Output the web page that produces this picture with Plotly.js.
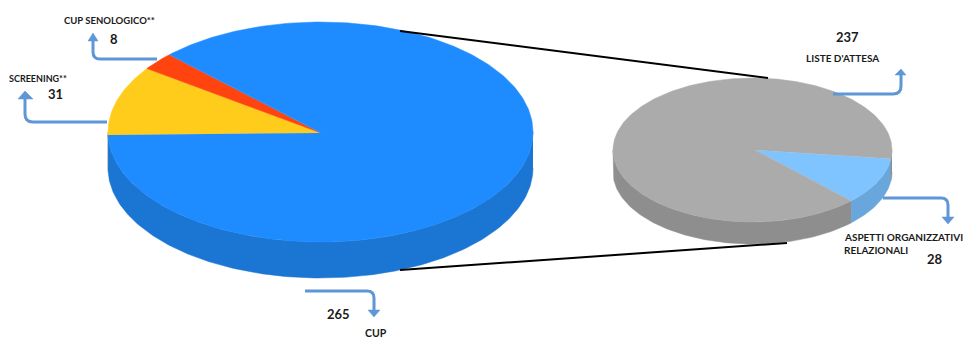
<!DOCTYPE html>
<html>
<head>
<meta charset="utf-8">
<script src="https://cdn.plot.ly/plotly-3.0.0.min.js"></script>
<style>html,body{margin:0;padding:0;background:#fff}#chart{width:963px;height:338px}</style>
</head>
<body>
<div id="chart"></div>
<script>
// Complaint counts: the main pie, and the breakdown of its CUP slice
const mainLabels = ['SCREENING**', 'CUP SENOLOGICO**', 'CUP'];
const mainValues = [31, 8, 265];
const mainTop = ['#FFCC1C', '#FF4410', '#1E8CFF'];
const mainSide = ['#C99F12', '#C9350C', '#1B75D2'];

const detailLabels = ['ASPETTI ORGANIZZATIVI', 'LISTE D\'ATTESA'];
const detailValues = [28, 237];
const detailTop = ['#80C4FF', '#ABABAB'];
const detailSide = ['#68A6DC', '#8E8E8E'];

// Tilted disc geometry, in axis units that equal page pixels.
// The apex sits a little off the rim's centre, as it does on a disc seen in perspective.
const mainDisc = {cx: 320.5, cy: 132, rx: 212.5, ry: 110, depth: 36, start: 178.5, apexX: 321, apexY: 133};
const detailDisc = {cx: 752.5, cy: 150, rx: 139.5, ry: 72, depth: 22, start: 7, apexX: 755, apexY: 150};

function rimPoint(d, deg, drop) {
  const t = deg * Math.PI / 180;
  return [d.cx + d.rx * Math.cos(t), d.cy + d.ry * Math.sin(t) + drop];
}
function arc(d, a, b, drop) {
  const pts = [], n = Math.max(2, Math.ceil(Math.abs(b - a)));
  for (let i = 0; i <= n; i++) pts.push(rimPoint(d, a + (b - a) * i / n, drop));
  return pts;
}
function polygon(pts, color) {
  return {
    type: 'scatter', mode: 'lines', fill: 'toself', fillcolor: color,
    x: pts.map(p => p[0]), y: pts.map(p => p[1]),
    line: {width: 0.5, color: color}, hoverinfo: 'skip', showlegend: false
  };
}
// Builds the side wall first, then the top face, with each sweep taken from the values
function discTraces(d, values, top, side) {
  const total = values.reduce((s, v) => s + v, 0);
  const walls = [], faces = [];
  let a = d.start;
  values.forEach((v, i) => {
    const b = a + v / total * 360;
    // the wall only shows along the front half of the rim: 0-180 and 360-540 degrees
    [[0, 180], [360, 540]].forEach(([lo, hi]) => {
      const s = Math.max(a, lo), e = Math.min(b, hi);
      if (e > s) walls.push(polygon(arc(d, s, e, 0).concat(arc(d, e, s, d.depth)), side[i]));
    });
    faces.push(polygon([[d.apexX, d.apexY]].concat(arc(d, a, b, 0)), top[i]));
    a = b;
  });
  return walls.concat(faces);
}

const traces = discTraces(mainDisc, mainValues, mainTop, mainSide)
  .concat(discTraces(detailDisc, detailValues, detailTop, detailSide));

const arrowBlue = '#5F96D6';
function leader(path, head) {
  return [
    {type: 'path', path: path, line: {color: arrowBlue, width: 3}, layer: 'above'},
    {type: 'path', path: head, fillcolor: arrowBlue, line: {color: arrowBlue, width: 0.5}, layer: 'above'}
  ];
}
const shapes = [
  {type: 'line', x0: 400, y0: 31, x1: 768, y1: 78, line: {color: '#000', width: 2}, layer: 'above'},
  {type: 'line', x0: 400, y0: 270, x1: 787, y1: 243, line: {color: '#000', width: 2}, layer: 'above'}
].concat(
  leader('M107,122 L33,122 Q25,122 25,114 L25,97', 'M18,99 L25,91 L33,99 Z'),
  leader('M157,59 L100,59 Q93,59 93,52 L93,40', 'M88,41 L93,33 L98,41 Z'),
  leader('M833,94 L893,94 Q901,94 901,86 L901,73', 'M895,75 L901,69 L906,75 Z'),
  leader('M883,198 L941,198 Q948,198 948,205 L948,218', 'M942,217 L948,224 L954,217 Z'),
  leader('M305,291 L367,291 Q374,291 374,298 L374,311', 'M368,310 L374,317 L380,310 Z')
);

function label(text, x, y, size, anchor) {
  return {
    text: text, x: x, y: y, xref: 'x', yref: 'y', showarrow: false,
    xanchor: anchor || 'center', yanchor: 'middle',
    font: {family: 'Lato, "Open Sans", sans-serif', size: size, color: '#1a1a1a', weight: 700}
  };
}
const annotations = [
  label(mainLabels[1], 62, 20, 9.5, 'left'),
  label(String(mainValues[1]), 114, 39, 13),
  label(mainLabels[0], 7, 78, 9, 'left'),
  label(String(mainValues[0]), 55, 94, 13),
  label(String(detailValues[1]), 847, 37, 13),
  label(detailLabels[1], 804, 58, 10, 'left'),
  label(detailLabels[0], 842, 237, 10, 'left'),
  label('RELAZIONALI', 842, 250, 10, 'left'),
  label(String(detailValues[0]), 935, 259, 13),
  label(String(mainValues[2]), 338, 314, 13),
  label(mainLabels[2], 376, 333, 10.5)
];

const hiddenAxis = {visible: false, fixedrange: true};
Plotly.newPlot('chart', traces, {
  width: 963, height: 338,
  margin: {l: 0, r: 0, t: 0, b: 0},
  paper_bgcolor: '#fff', plot_bgcolor: '#fff',
  xaxis: Object.assign({range: [0, 963]}, hiddenAxis),
  yaxis: Object.assign({range: [338, 0]}, hiddenAxis),
  shapes: shapes,
  annotations: annotations,
  showlegend: false
}, {displayModeBar: false, staticPlot: true});
</script>
</body>
</html>
